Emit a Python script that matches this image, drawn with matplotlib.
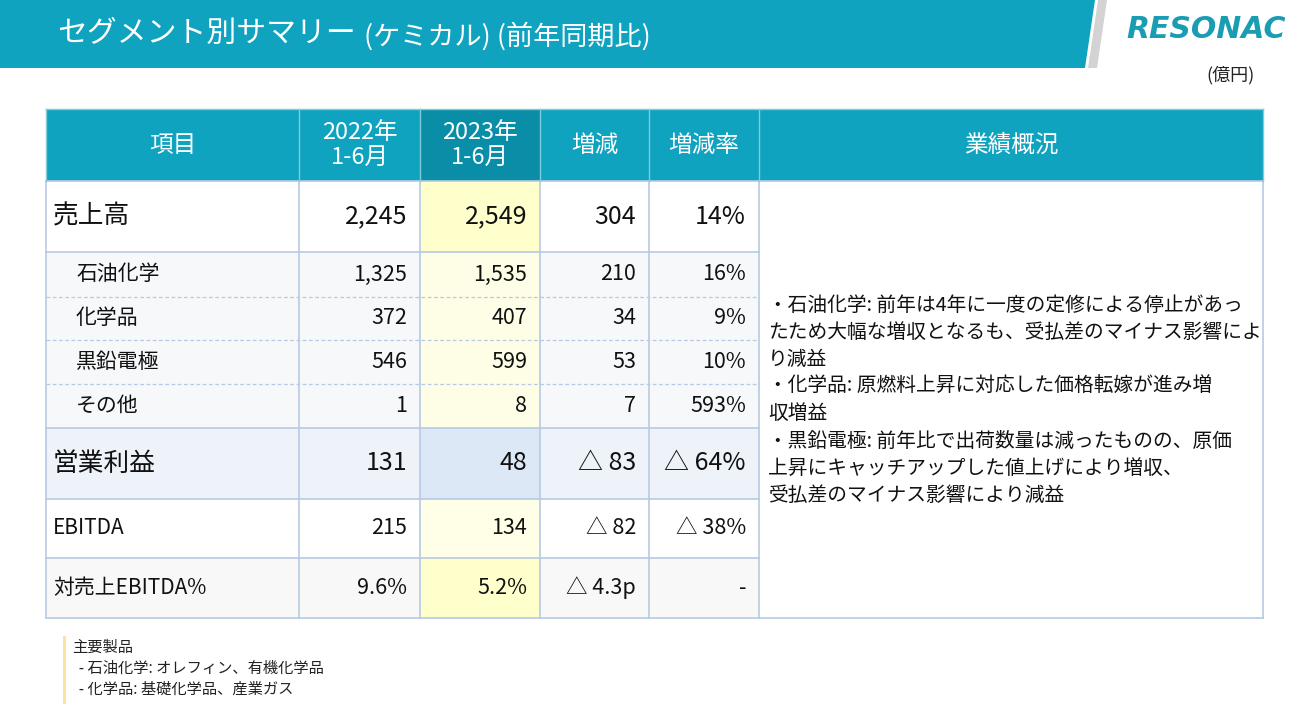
import matplotlib.pyplot as plt
from matplotlib.patches import Rectangle, Polygon

plt.rcParams['font.family'] = ['Noto Sans CJK JP', 'DejaVu Sans']

# table data (億円)
items = ['売上高', '石油化学', '化学品', '黒鉛電極', 'その他', '営業利益', 'EBITDA', '対売上EBITDA%']
v2022 = [2245, 1325, 372, 546, 1, 131, 215, 9.6]
v2023 = [2549, 1535, 407, 599, 8, 48, 134, 5.2]
diff = [304, 210, 34, 53, 7, -83, -82, -4.3]
rate = [14, 16, 9, 10, 593, -64, -38, None]
headers = ['項目', '2022年\n1-6月', '2023年\n1-6月', '増減', '増減率', '業績概況']
summary = ['・石油化学: 前年は4年に一度の定修による停止があっ',
           'たため大幅な増収となるも、受払差のマイナス影響によ',
           'り減益',
           '・化学品: 原燃料上昇に対応した価格転嫁が進み増',
           '収増益',
           '・黒鉛電極: 前年比で出荷数量は減ったものの、原価',
           '上昇にキャッチアップした値上げにより増収、',
           '受払差のマイナス影響により減益']
notes = ['主要製品', '  - 石油化学: オレフィン、有機化学品', '  - 化学品: 基礎化学品、産業ガス']

teal = '#0FA3C0'
teal_dark = '#0A8EA8'
grid = '#B7CAE3'


def fmt(v, pct=False, pt=False):
    if v is None:
        return '-'
    if isinstance(v, float):
        s = f'{abs(v):.1f}'
    else:
        s = f'{abs(v):,}'
    if pct:
        s += '%'
    if pt:
        s += 'p'
    return ('△ ' + s) if v < 0 else s


fig = plt.figure(figsize=(13.08, 7.07), dpi=100)
ax = fig.add_axes([0, 0, 1, 1])
ax.set_xlim(0, 1308)
ax.set_ylim(707, 0)
ax.axis('off')

# title bar
ax.add_patch(Polygon([(0, 0), (1095, 0), (1085, 68), (0, 68)], color=teal, lw=0))
ax.add_patch(Polygon([(1098, 0), (1107, 0), (1097, 68), (1088, 68)], color='#D3D3D3', lw=0))
ax.text(57, 33, 'セグメント別サマリー', color='white', fontsize=21.5, va='center')
ax.text(364, 36, '(ケミカル) (前年同期比)', color='white', fontsize=19.5, va='center')
ax.text(1206, 30, 'RESONAC', color='#1A9CB3', fontsize=21.5, fontweight='bold',
        style='italic', family='DejaVu Sans', ha='center', va='center')
ax.text(1255, 75, '(億円)', color='#222222', fontsize=13, ha='right', va='center')

# table geometry
cols = [46, 299, 420, 540, 649, 759, 1263]
rows = [181, 252, 297, 340, 384, 428, 499, 558, 618]
head_top = 109
row_bg = ['white', '#F7F8FA', '#F7F8FA', '#F7F8FA', '#F7F8FA', '#EEF3FA', 'white', '#F8F8F9']
col23_bg = ['#FFFFCC', '#FEFDE6', '#FEFDE6', '#FEFDE6', '#FEFDE6', '#DCE8F5', '#FFFEE6', '#FFFFCC']
major = [True, False, False, False, False, True, False, False]

# header
for j, h in enumerate(headers):
    c = teal_dark if j == 2 else teal
    ax.add_patch(Rectangle((cols[j], head_top), cols[j + 1] - cols[j], rows[0] - head_top,
                           color=c, lw=0))
    ax.text((cols[j] + cols[j + 1]) / 2, (head_top + rows[0]) / 2, h, color='white',
            fontsize=17, ha='center', va='center', linespacing=1.1)

# body
for i, name in enumerate(items):
    y0, y1 = rows[i], rows[i + 1]
    ym = (y0 + y1) / 2
    ax.add_patch(Rectangle((cols[0], y0), cols[5] - cols[0], y1 - y0, color=row_bg[i], lw=0))
    ax.add_patch(Rectangle((cols[2], y0), cols[3] - cols[2], y1 - y0, color=col23_bg[i], lw=0))
    if major[i]:
        lab_fs, num_fs, lx = 18.5, 18, 53
    elif i in (1, 2, 3, 4):
        lab_fs, num_fs, lx = 15, 15.5, 76
    else:
        lab_fs, num_fs, lx = 15, 15.5, 53
    ax.text(lx, ym, name, fontsize=lab_fs, va='center', color='#111111')
    last = name == '対売上EBITDA%'
    vals = [fmt(v2022[i], pct=last), fmt(v2023[i], pct=last),
            fmt(diff[i], pt=last), fmt(rate[i], pct=True) if rate[i] is not None else '-']
    for j, s in enumerate(vals):
        ax.text(cols[j + 2] - 13, ym, s, fontsize=num_fs, ha='right', va='center',
                color='#111111')

# summary column
ax.add_patch(Rectangle((cols[5], rows[0]), cols[6] - cols[5], rows[-1] - rows[0],
                       color='white', lw=0))
for k, line in enumerate(summary):
    ax.text(768, 305 + k * 27.2, line, fontsize=14.2, va='center', color='#111111')

# grid lines
for i, y in enumerate(rows):
    if i in (2, 3, 4):
        ax.plot([cols[0], cols[5]], [y, y], color=grid, lw=0.9, ls=(0, (3, 2)))
    elif i in (0, len(rows) - 1):
        ax.plot([cols[0], cols[6]], [y, y], color=grid, lw=1.2)
    else:
        ax.plot([cols[0], cols[5]], [y, y], color=grid, lw=1.2)
for x in cols:
    ax.plot([x, x], [rows[0], rows[-1]], color=grid, lw=1.2)
    ax.plot([x, x], [head_top, rows[0]], color='#7ECBDB', lw=1.0)
ax.plot([cols[0], cols[6]], [head_top, head_top], color='#7ECBDB', lw=1.0)

# footnote
ax.add_patch(Rectangle((63, 636), 3, 68, color='#FBE2A2', lw=0))
for k, line in enumerate(notes):
    ax.text(72, 647 + k * 21, line, fontsize=11, va='center', color='#222222')

fig.savefig('out.png', dpi=100)
